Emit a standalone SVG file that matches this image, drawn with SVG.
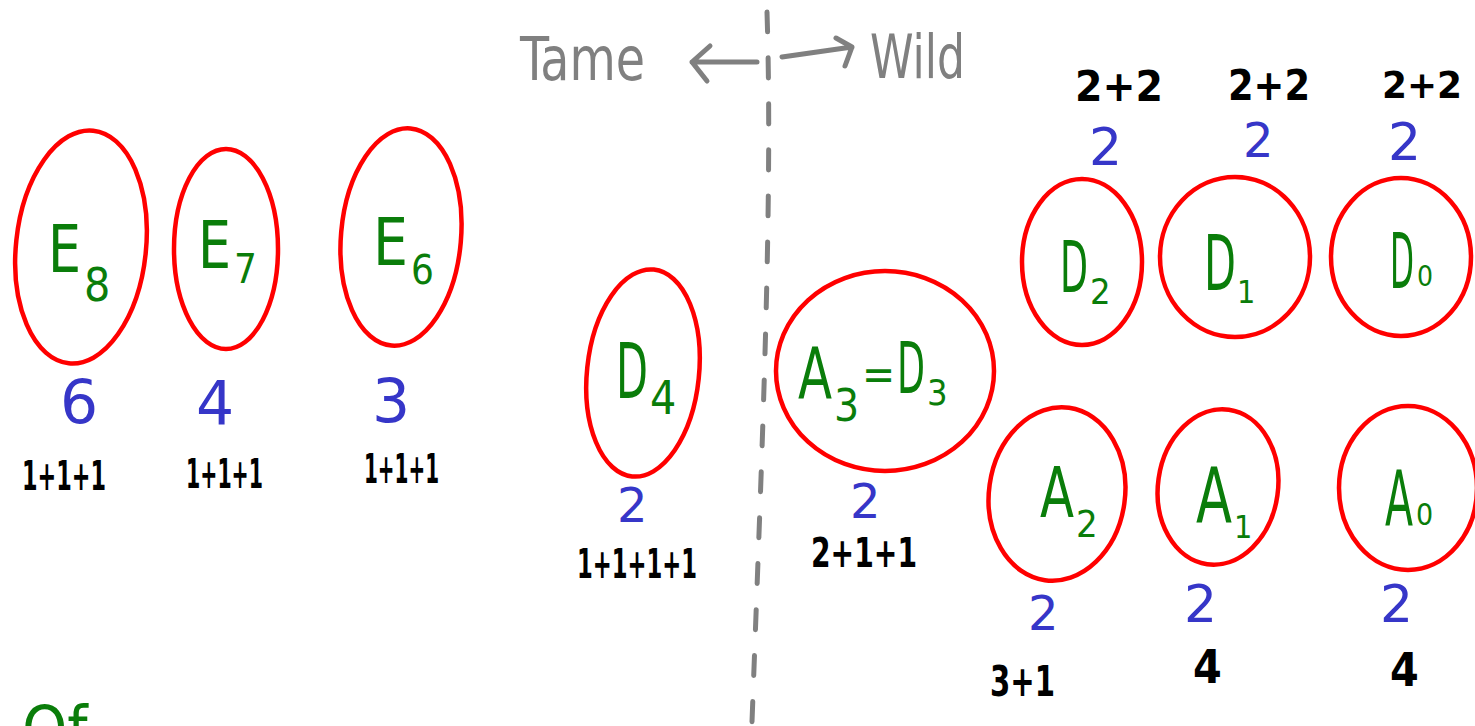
<svg xmlns="http://www.w3.org/2000/svg" width="1475" height="726" viewBox="0 0 1475 726">
<style>
.ring{fill:none;stroke:#ff0000;stroke-width:4.5}
.g{fill:#0a7d0a;font-family:"DejaVu Sans Condensed","DejaVu Sans",sans-serif}
.b{fill:#3636c8;font-family:"DejaVu Sans",sans-serif}
.k{fill:#000;font-family:"DejaVu Sans Condensed","DejaVu Sans",sans-serif;font-weight:bold}
.gr{fill:#808080;font-family:"DejaVu Sans Condensed","DejaVu Sans",sans-serif}
.ln{fill:none;stroke:#808080;stroke-width:5;stroke-linecap:round;stroke-linejoin:round}
</style>
<rect width="1475" height="726" fill="#fff"/>
<g id="connectors">
<path class="ln" d="M767,12 C773,200 762,450 752,722" stroke-dasharray="20 26"/>
<path class="ln" d="M757,62 L692,62 M710,46 L692,62 L707,81"/>
<path class="ln" d="M782,57 L852,47 M836,38 L852,47 L845,66"/>
</g>
<g id="header">
<text class="gr" x="520" y="80" font-size="60" textLength="125" lengthAdjust="spacingAndGlyphs">Tame</text>
<text class="gr" x="870" y="78" font-size="60" textLength="95" lengthAdjust="spacingAndGlyphs">Wild</text>
</g>
<g id="E8">
<ellipse class="ring" cx="81" cy="247" rx="65" ry="117" transform="rotate(6 81 247)"/>
<text class="g"><tspan x="48" y="272" font-size="66" textLength="33" lengthAdjust="spacingAndGlyphs">E</tspan><tspan x="84" y="301" font-size="46">8</tspan></text>
<text class="b" x="60" y="423" font-size="60">6</text>
<text class="k" x="22" y="490" font-size="40" textLength="84" lengthAdjust="spacingAndGlyphs">1+1+1</text>
</g>
<g id="E7">
<ellipse class="ring" cx="226" cy="249" rx="52" ry="100"/>
<text class="g"><tspan x="198" y="268" font-size="66" textLength="33" lengthAdjust="spacingAndGlyphs">E</tspan><tspan x="234" y="283" font-size="40">7</tspan></text>
<text class="b" x="196" y="424" font-size="60">4</text>
<text class="k" x="186" y="488" font-size="40" textLength="77" lengthAdjust="spacingAndGlyphs">1+1+1</text>
</g>
<g id="E6">
<ellipse class="ring" cx="401" cy="237" rx="60" ry="109" transform="rotate(5 401 237)"/>
<text class="g"><tspan x="373" y="265" font-size="66" textLength="35" lengthAdjust="spacingAndGlyphs">E</tspan><tspan x="411" y="284" font-size="40">6</tspan></text>
<text class="b" x="372" y="422" font-size="60">3</text>
<text class="k" x="364" y="483" font-size="40" textLength="75" lengthAdjust="spacingAndGlyphs">1+1+1</text>
</g>
<g id="D4">
<ellipse class="ring" cx="643" cy="373" rx="56" ry="104" transform="rotate(6 643 373)"/>
<text class="g"><tspan x="616" y="398" font-size="76" textLength="32" lengthAdjust="spacingAndGlyphs">D</tspan><tspan x="650" y="414" font-size="46">4</tspan></text>
<text class="b" x="617" y="522" font-size="48">2</text>
<text class="k" x="577" y="578" font-size="40" textLength="120" lengthAdjust="spacingAndGlyphs">1+1+1+1</text>
</g>
<g id="A3D3">
<ellipse class="ring" cx="885" cy="371" rx="109" ry="100"/>
<text class="g"><tspan x="798" y="398" font-size="72" textLength="34" lengthAdjust="spacingAndGlyphs">A</tspan><tspan x="834" y="421" font-size="44">3</tspan><tspan x="862" y="390" font-size="44">=</tspan><tspan x="897" y="393" font-size="72" textLength="28" lengthAdjust="spacingAndGlyphs">D</tspan><tspan x="927" y="405" font-size="36">3</tspan></text>
<text class="b" x="850" y="518" font-size="48">2</text>
<text class="k" x="811" y="567" font-size="40" textLength="106" lengthAdjust="spacingAndGlyphs">2+1+1</text>
</g>
<g id="D2">
<ellipse class="ring" cx="1082" cy="262" rx="60" ry="83"/>
<text class="g"><tspan x="1060" y="292" font-size="72" textLength="28" lengthAdjust="spacingAndGlyphs">D</tspan><tspan x="1090" y="304" font-size="36">2</tspan></text>
<text class="b" x="1089" y="165" font-size="52">2</text>
<text class="k" x="1075" y="101" font-size="42" textLength="88" lengthAdjust="spacingAndGlyphs">2+2</text>
</g>
<g id="D1">
<ellipse class="ring" cx="1235" cy="257" rx="75" ry="80"/>
<text class="g"><tspan x="1204" y="290" font-size="76" textLength="32" lengthAdjust="spacingAndGlyphs">D</tspan><tspan x="1237" y="303" font-size="32">1</tspan></text>
<text class="b" x="1243" y="157" font-size="48">2</text>
<text class="k" x="1228" y="100" font-size="42" textLength="82" lengthAdjust="spacingAndGlyphs">2+2</text>
</g>
<g id="D0">
<ellipse class="ring" cx="1401" cy="257" rx="70" ry="79"/>
<text class="g"><tspan x="1390" y="288" font-size="76" textLength="24" lengthAdjust="spacingAndGlyphs">D</tspan><tspan x="1417" y="286" font-size="28">0</tspan></text>
<text class="b" x="1388" y="160" font-size="52">2</text>
<text class="k" x="1382" y="98" font-size="38" textLength="80" lengthAdjust="spacingAndGlyphs">2+2</text>
</g>
<g id="A2">
<ellipse class="ring" cx="1057" cy="494" rx="68" ry="87" transform="rotate(8 1057 494)"/>
<text class="g"><tspan x="1040" y="517" font-size="70" textLength="34" lengthAdjust="spacingAndGlyphs">A</tspan><tspan x="1076" y="537" font-size="38">2</tspan></text>
<text class="b" x="1028" y="630" font-size="48">2</text>
<text class="k" x="990" y="696" font-size="42" textLength="65" lengthAdjust="spacingAndGlyphs">3+1</text>
</g>
<g id="A1">
<ellipse class="ring" cx="1218" cy="487" rx="60" ry="78" transform="rotate(8 1218 487)"/>
<text class="g"><tspan x="1196" y="522" font-size="76" textLength="36" lengthAdjust="spacingAndGlyphs">A</tspan><tspan x="1234" y="538" font-size="32">1</tspan></text>
<text class="b" x="1184" y="622" font-size="52">2</text>
<text class="k" x="1193" y="683" font-size="46">4</text>
</g>
<g id="A0">
<ellipse class="ring" cx="1408" cy="488" rx="69" ry="82"/>
<text class="g"><tspan x="1385" y="525" font-size="76" textLength="28" lengthAdjust="spacingAndGlyphs">A</tspan><tspan x="1416" y="525" font-size="30">0</tspan></text>
<text class="b" x="1380" y="622" font-size="52">2</text>
<text class="k" x="1390" y="686" font-size="46">4</text>
</g>
<g id="footer">
<text class="g" x="22" y="752" font-size="64">Of</text>
</g>
</svg>
